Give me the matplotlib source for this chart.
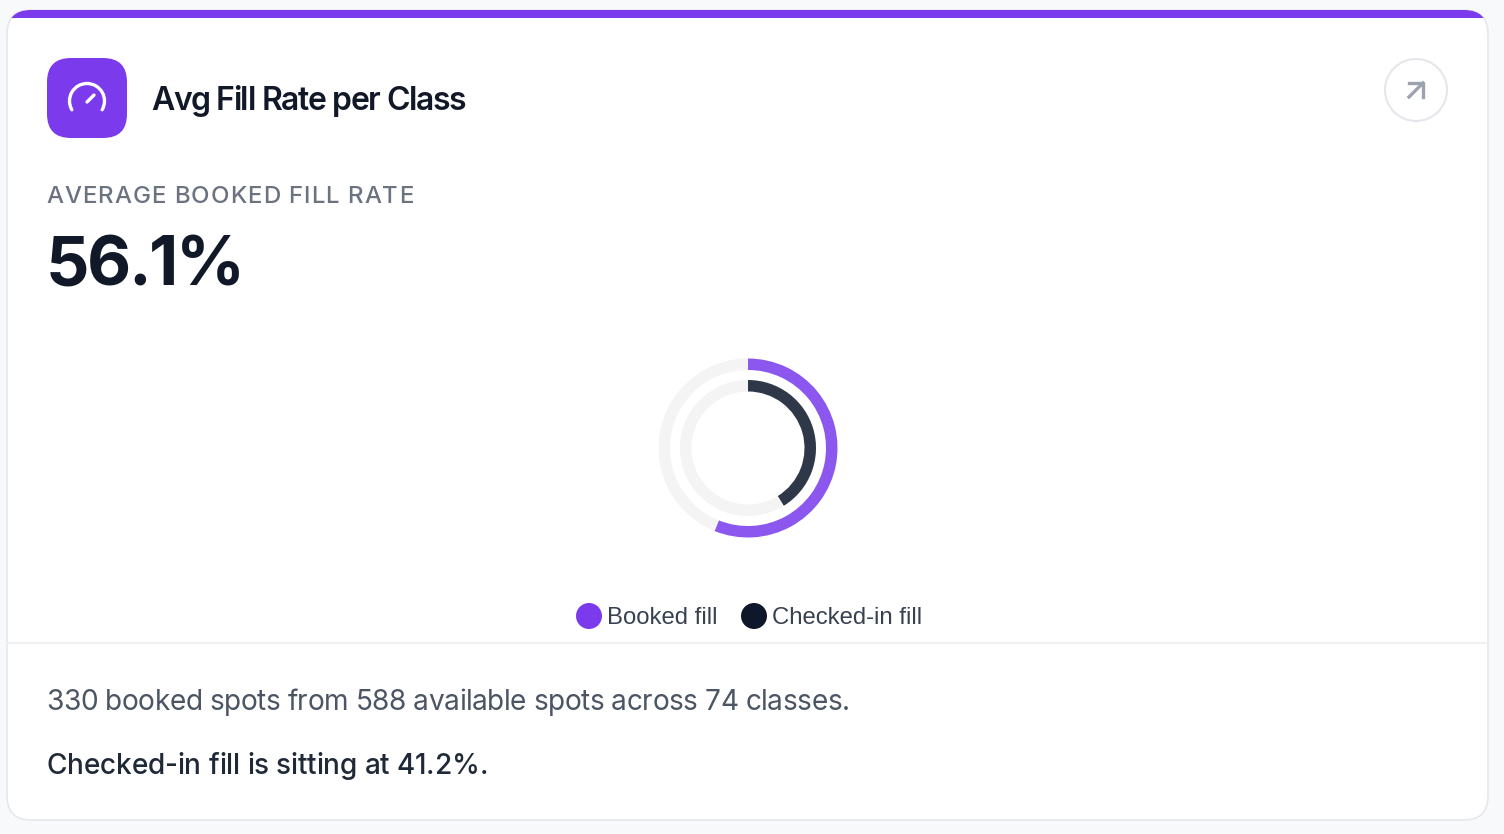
#!/usr/bin/env python3
import matplotlib
matplotlib.use("Agg")
import matplotlib.pyplot as plt
import numpy as np
from matplotlib.patches import Arc, Circle, FancyBboxPatch, Rectangle

title = "Avg Fill Rate per Class"
kpi_label = "AVERAGE BOOKED FILL RATE"
kpi_value = "56.1%"
booked_fill = 56.1
checked_in_fill = 41.2
legend_labels = ["Booked fill", "Checked-in fill"]
summary_line = "330 booked spots from 588 available spots across 74 classes."
insight_line = "Checked-in fill is sitting at 41.2%."

W, H = 1504, 834
purple = "#7c3aed"
navy = "#111827"

plt.rcParams["font.family"] = ["Inter", "DejaVu Sans"]

fig = plt.figure(figsize=(W / 100, H / 100), dpi=100, facecolor="#f8f9fb")
# whole figure axes in pixel units, y going down
ax = fig.add_axes([0, 0, 1, 1])
ax.set_xlim(0, W)
ax.set_ylim(H, 0)
ax.axis("off")


def px(size):
    return size * 0.72


def tracked_text(x, y, s, size, track, **kw):
    # matplotlib has no letter spacing so place the characters one by one
    renderer = fig.canvas.get_renderer()

    def width(part):
        t = ax.text(0, 0, part, fontsize=px(size), **kw)
        w = t.get_window_extent(renderer).width
        t.remove()
        return w

    for i, ch in enumerate(s):
        if ch == " ":
            continue
        offset = width(s[: i + 1]) - width(ch)
        ax.text(x + offset + i * track, y, ch, fontsize=px(size), va="baseline", **kw)


# card
card = FancyBboxPatch(
    (7, 10), 1481, 810, boxstyle="round,pad=0,rounding_size=24",
    facecolor="white", edgecolor="#e6e8ec", linewidth=1.2, zorder=1,
)
ax.add_patch(card)
band = Rectangle((0, 10), W, 8, facecolor=purple, edgecolor="none", zorder=2)
ax.add_patch(band)
band.set_clip_path(card)

# header icon
ax.add_patch(FancyBboxPatch(
    (47, 58), 80, 80, boxstyle="round,pad=0,rounding_size=24",
    facecolor=purple, edgecolor="none", zorder=3,
))
ax.add_patch(Arc((87, 101), 35, 35, theta1=150, theta2=390, color="white", lw=2.4,
                 capstyle="round", zorder=4))
ax.plot([87, 94], [102, 95], color="white", lw=2.4, solid_capstyle="round", zorder=4)

tracked_text(151, 110, title, 32, -1.3, color=navy, fontweight="semibold", zorder=4)

# open button
ax.add_patch(Circle((1416, 90), 31, facecolor="white", edgecolor="#e5e7eb", lw=1.5, zorder=3))
ax.plot([1409, 1423], [97, 83], color="#9ca3af", lw=2.4, zorder=4)
ax.plot([1409, 1423, 1423], [83, 83, 97], color="#9ca3af", lw=2.4, zorder=4)

# KPI
tracked_text(46, 203, kpi_label, 24, 1.05, color="#6b7280", fontweight="medium", zorder=4)
tracked_text(46, 285, kpi_value, 68, -2.5, color=navy, fontweight="bold", zorder=4)

# rings
cx, cy, box = 748, 448, 200
ring_ax = fig.add_axes([(cx - box / 2) / W, 1 - (cy + box / 2) / H, box / W, box / H])
ring_ax.set_zorder(5)
for value, radius, colour in [
    (booked_fill, 89.5, "#8b57ee"),
    (checked_in_fill, 68, "#2f3849"),
]:
    ring_ax.pie(
        [value, 100 - value], radius=radius, startangle=90, counterclock=False,
        colors=[colour, "#f4f4f4"], wedgeprops=dict(width=11.5, linewidth=0),
    )
ring_ax.set_xlim(-box / 2, box / 2)
ring_ax.set_ylim(-box / 2, box / 2)

# legend
for x_dot, x_txt, colour, label in zip(
    [589, 754], [607, 772], ["#7c3aed", "#0f172a"], legend_labels
):
    ax.add_patch(Circle((x_dot, 616), 13, facecolor=colour, edgecolor="none", zorder=4))
    ax.text(x_txt, 624, label, fontsize=px(23.9), family="Liberation Sans",
            color="#374151", va="baseline", zorder=4)

# footer
ax.plot([7, 1488], [642.5, 642.5], color="#f0f1f3", lw=1.5, zorder=3)
tracked_text(46.5, 710, summary_line, 28, -0.4, color="#4b5563", zorder=4)
tracked_text(47, 774, insight_line, 28, -0.17, color="#1f2937", fontweight="medium", zorder=4)

fig.savefig("out.png", dpi=100, facecolor=fig.get_facecolor())
